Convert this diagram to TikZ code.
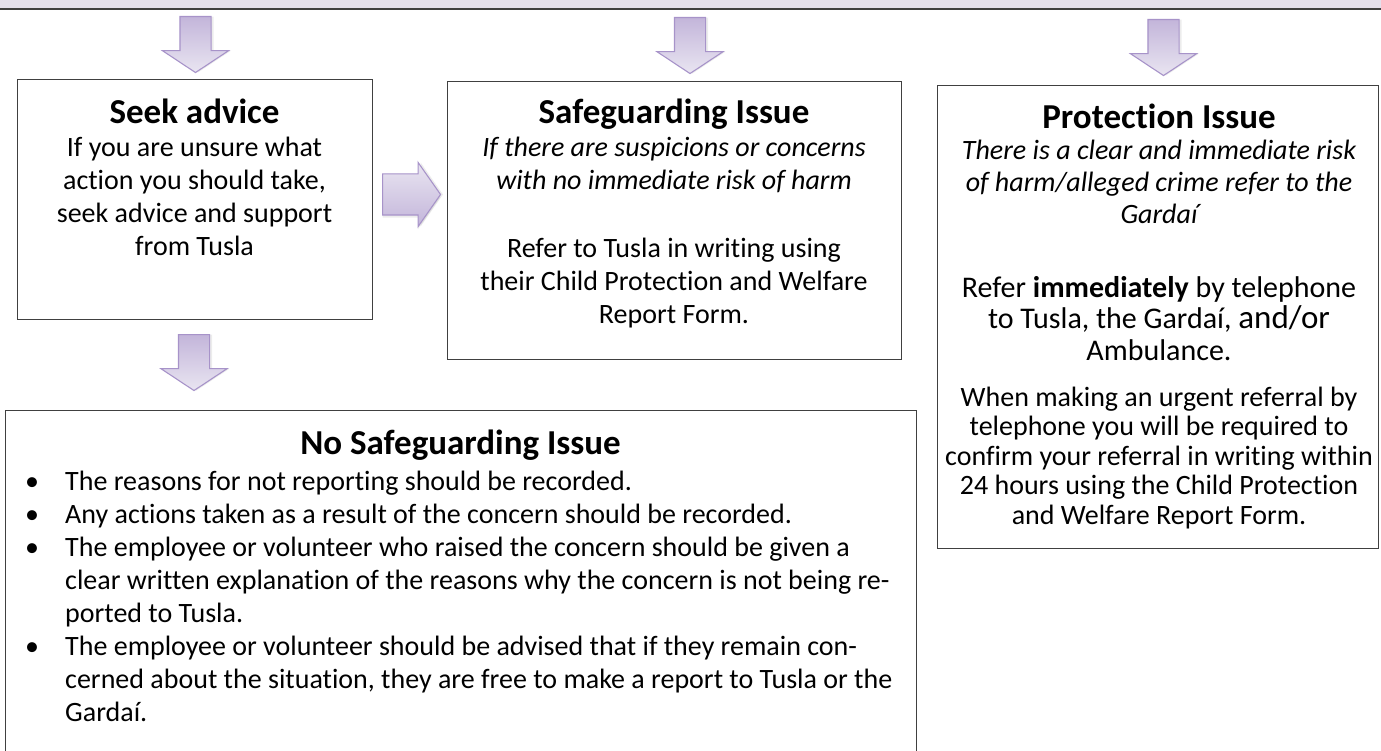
\documentclass[tikz,border=0pt]{standalone}
\usepackage{fontspec}
\setmainfont{Carlito}[Ligatures={TeX,NoCommon}]
\usetikzlibrary{shapes.arrows, shadows}
\definecolor{barlilac}{HTML}{E5E0EC}
\definecolor{arrowlight}{HTML}{E9E5F1}
\definecolor{arrowdark}{HTML}{C3B5DA}
\definecolor{arrowline}{HTML}{A793C9}
\definecolor{boxline}{HTML}{404040}
\newcommand{\headsize}{\fontsize{35}{40}\selectfont\bfseries}
\newcommand{\bodysize}{\fontsize{28}{33}\selectfont}
\newcommand{\refersize}{\fontsize{30}{31.5}\selectfont}

\begin{document}
\begin{tikzpicture}[x=1pt, y=-1pt,
    frame/.style={draw=boxline, line width=1.3pt, anchor=north west, inner sep=0pt},
    blockarrow/.style={single arrow, draw=arrowline, line width=1.1pt, inner xsep=0pt,
        inner ysep=15pt, minimum height=56pt, single arrow head extend=17.5pt,
        single arrow tip angle=113, top color=arrowdark, bottom color=arrowlight,
        drop shadow={opacity=0.15, shadow xshift=2.5pt, shadow yshift=0pt}},
    heading/.style={font=\headsize, inner sep=0pt, anchor=base},
    bodytext/.style={font=\bodysize, align=center, inner sep=0pt, anchor=base}]
    \useasboundingbox (0,0) rectangle (1381,751);

    % TOP: the bar the three arrows hang from
    \fill[barlilac] (0,-6) rectangle (1381,9);
    \draw[boxline, line width=1.3pt] (0,9) -- (1381,9);
    \node[blockarrow, rotate=-90, anchor=tail] (arrowSeek) at (195.5,16) {};
    \node[blockarrow, rotate=-90, anchor=tail] (arrowSafe) at (690,17) {};
    \node[blockarrow, rotate=-90, anchor=tail] (arrowProt) at (1163.5,19) {};

    % LEFT: Seek advice (multi-line nodes sit on their last baseline)
    \node[frame, minimum width=355pt, minimum height=240pt] (seekBox) at (17,79) {};
    \node[heading] (seekTitle) at (194.5,124) {Seek advice};
    \node[bodytext] (seekText) at (194.5,256) {If you are unsure what\\action you should take,\\seek advice and support\\from Tusla};
    \node[blockarrow, anchor=tail, minimum height=58pt, inner ysep=20pt,
        single arrow head extend=11.5pt, single arrow tip angle=110,
        top color=arrowlight, bottom color=arrowdark,
        drop shadow={opacity=0.15, shadow xshift=0pt, shadow yshift=-2.5pt}] (arrowSide) at (382,194.5) {};
    \node[blockarrow, rotate=-90, anchor=tail] (arrowNone) at (194,334) {};

    % MIDDLE: Safeguarding issue
    \node[frame, minimum width=454pt, minimum height=278pt] (safeBox) at (447,81) {};
    \node[heading] (safeTitle) at (674,124) {Safeguarding Issue};
    \node[bodytext, font=\bodysize\itshape] (safeCase) at (674,190) {If there are suspicions or concerns\\with no immediate risk of harm};
    \node[bodytext] (safeText) at (674,323.5) {Refer to Tusla in writing using\\their Child Protection and Welfare\\Report Form.};

    % RIGHT: Protection issue
    \node[frame, minimum width=441pt, minimum height=463pt] (protBox) at (937,85) {};
    \node[heading] (protTitle) at (1159,129) {Protection Issue};
    \node[bodytext, font=\fontsize{28}{32}\selectfont\itshape] (protCase) at (1159,224) {There is a clear and immediate risk\\of harm/alleged crime refer to the\\Gardaí};
    \node[bodytext, font=\refersize] (protCall) at (1159,360) {Refer \textbf{immediately} by telephone\\to Tusla, the Gardaí, {\fontsize{33}{33}\selectfont and/or}\\Ambulance.};
    \node[bodytext, font=\fontsize{28}{29.5}\selectfont] (protNote) at (1159,524) {When making an urgent referral by\\telephone you will be required to\\confirm your referral in writing within\\24 hours using the Child Protection\\and Welfare Report Form.};

    % BOTTOM: No safeguarding issue
    \node[frame, minimum width=911pt, minimum height=400pt] (noneBox) at (5,410) {};
    \node[heading] (noneTitle) at (460.5,454) {No Safeguarding Issue};
    \node[bodytext, align=left, anchor=base west] (noneText) at (65,721) {The reasons for not reporting should be recorded.\\Any actions taken as a result of the concern should be recorded.\\The employee or volunteer who raised the concern should be given a\\clear written explanation of the reasons why the concern is not being re-\\ported to Tusla.\\The employee or volunteer should be advised that if they remain con-\\cerned about the situation, they are free to make a report to Tusla or the\\Gardaí.};
    \node[bodytext] (dotA) at (32,490) {\textbullet};
    \node[bodytext] (dotB) at (32,523) {\textbullet};
    \node[bodytext] (dotC) at (32,556) {\textbullet};
    \node[bodytext] (dotD) at (32,655) {\textbullet};
\end{tikzpicture}
\end{document}
